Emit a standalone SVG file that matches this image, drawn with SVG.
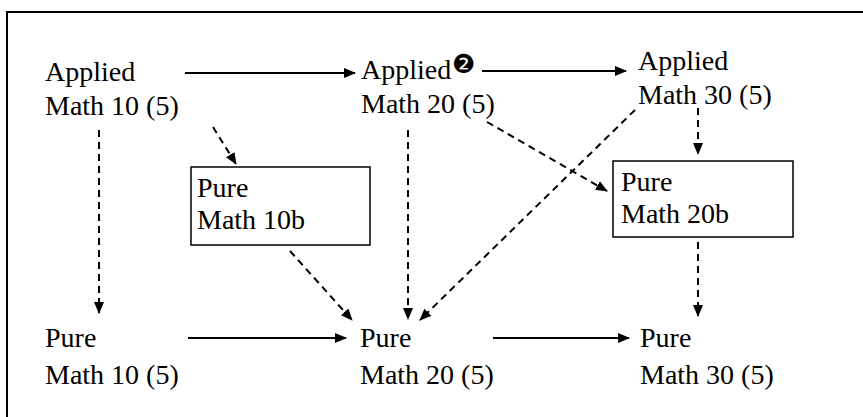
<svg xmlns="http://www.w3.org/2000/svg" width="863" height="417" viewBox="0 0 863 417">
<defs>
<marker id="ah" markerUnits="userSpaceOnUse" markerWidth="12" markerHeight="10" refX="11" refY="5" orient="auto">
<path d="M0,0 L12,5 L0,10 Z" fill="#000"/>
</marker>
<style>
text{font-family:"Liberation Serif","Times New Roman",serif;font-size:28px;fill:#000}
text.sym{font-family:"DejaVu Sans",sans-serif;font-size:26px}
.solid{stroke:#000;stroke-width:2;fill:none;marker-end:url(#ah)}
.dash{stroke:#000;stroke-width:2;fill:none;stroke-dasharray:7,5;marker-end:url(#ah)}
.box{fill:#fff;stroke:#000;stroke-width:1.5}
</style>
</defs>
<rect x="7" y="12" width="900" height="500" fill="none" stroke="#000" stroke-width="2"/>
<g id="connectors">
<line class="solid" x1="185" y1="73" x2="355" y2="73"/>
<line class="solid" x1="482" y1="71" x2="626" y2="71"/>
<line class="solid" x1="188" y1="338" x2="346" y2="338"/>
<line class="solid" x1="493" y1="338" x2="629" y2="338"/>
<line class="dash" x1="99" y1="130" x2="99" y2="313"/>
<line class="dash" x1="213" y1="127" x2="236" y2="164"/>
<line class="dash" x1="290" y1="251" x2="352" y2="320"/>
<line class="dash" x1="408" y1="130" x2="408" y2="319"/>
<line class="dash" x1="487" y1="122" x2="607" y2="191"/>
<line class="dash" x1="635" y1="110" x2="420" y2="320"/>
<line class="dash" x1="698" y1="108" x2="698" y2="154"/>
<line class="dash" x1="698" y1="242" x2="698" y2="316"/>
</g>
<g id="applied10"><text x="45" y="81">Applied</text><text x="45" y="115">Math 10 (5)</text></g>
<g id="applied20"><text x="361" y="79">Applied</text><text class="sym" x="452" y="73">❷</text><text x="361" y="113">Math 20 (5)</text></g>
<g id="applied30"><text x="638" y="70">Applied</text><text x="638" y="104">Math 30 (5)</text></g>
<g id="pure10b"><rect class="box" x="191" y="167" width="179" height="78"/><text x="197" y="197">Pure</text><text x="197" y="229">Math 10b</text></g>
<g id="pure20b"><rect class="box" x="613" y="161" width="180" height="76"/><text x="621" y="191">Pure</text><text x="621" y="223">Math 20b</text></g>
<g id="pure10"><text x="45" y="347">Pure</text><text x="45" y="384">Math 10 (5)</text></g>
<g id="pure20"><text x="360" y="347">Pure</text><text x="360" y="384">Math 20 (5)</text></g>
<g id="pure30"><text x="640" y="347">Pure</text><text x="640" y="384">Math 30 (5)</text></g>
</svg>
